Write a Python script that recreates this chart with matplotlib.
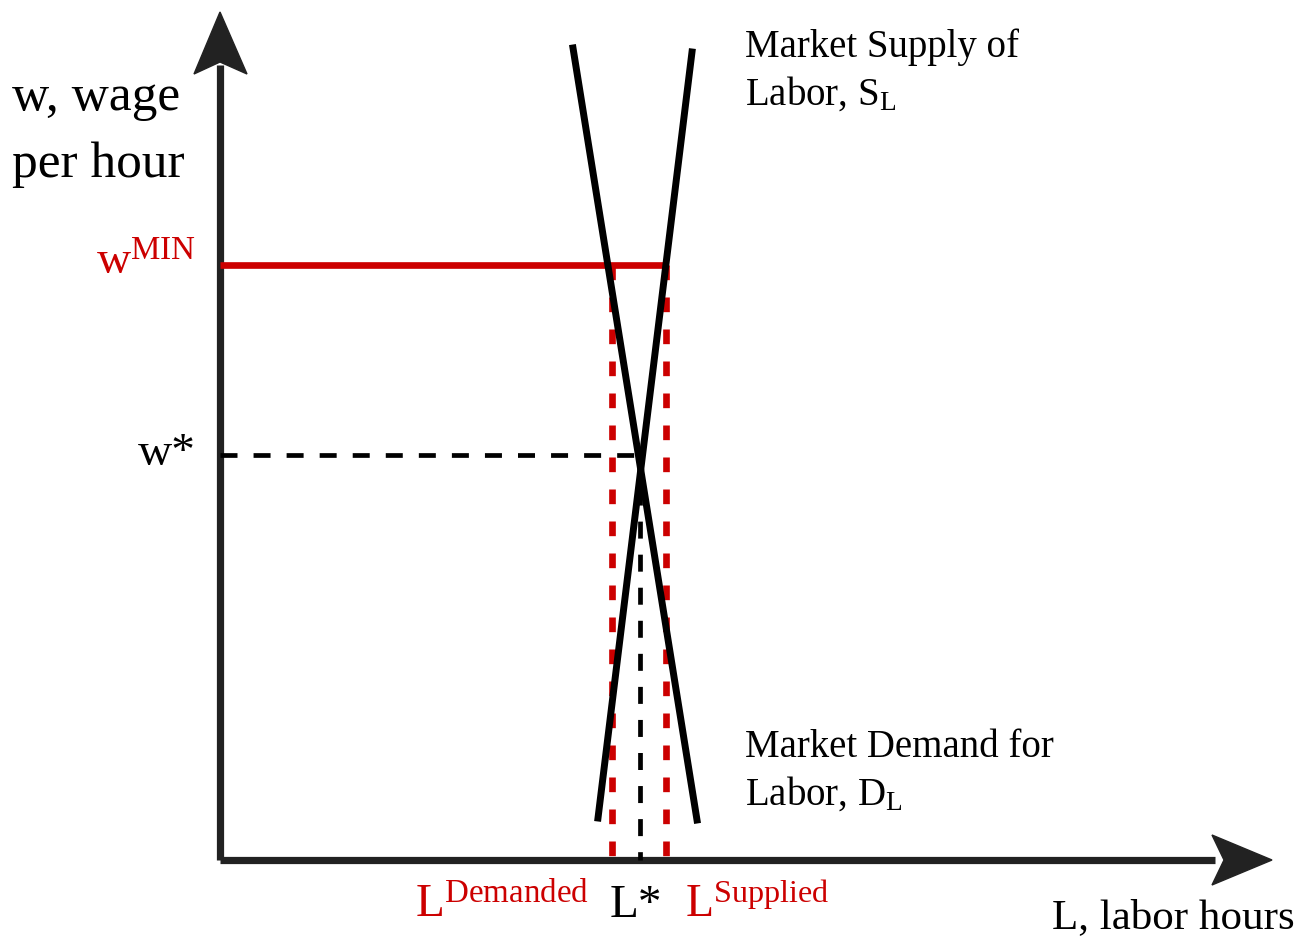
import matplotlib.pyplot as plt
from matplotlib.patches import Polygon

plt.rcParams['font.family'] = ['Liberation Serif', 'DejaVu Serif']
plt.rcParams['mathtext.fontset'] = 'custom'
plt.rcParams['mathtext.rm'] = 'Liberation Serif'
plt.rcParams['mathtext.it'] = 'Liberation Serif:italic'

# curves (labor, wage)
demand_L = [3.53, 4.77]
demand_w = [8.12, 0.40]
supply_L = [3.78, 4.72]
supply_w = [0.42, 8.08]

# key levels
w_min = 5.95
w_star = 4.05
L_star = 4.20
L_dem = 3.92
L_sup = 4.46

red = '#cc0000'
axc = '#222222'

fig = plt.figure(figsize=(13.07, 9.42), dpi=100)
ax = fig.add_axes([0, 0, 1, 1])
ax.set_xlim(-2.20, 10.87)
ax.set_ylim(-0.82, 8.60)
ax.axis('off')

# axes with arrows
ax.plot([0, 0], [0, 7.95], color=axc, lw=5.2, solid_capstyle='butt')
ax.plot([0, 9.95], [0, 0], color=axc, lw=5.2, solid_capstyle='butt')
ax.add_patch(Polygon([[0, 8.48], [-0.26, 7.86], [0, 7.98], [0.27, 7.86]],
                     closed=True, color=axc))
ax.add_patch(Polygon([[10.52, 0], [9.92, 0.25], [10.04, 0], [9.92, -0.25]],
                     closed=True, color=axc))

# minimum wage and quantities
ax.plot([0, L_sup + 0.01], [w_min, w_min], color=red, lw=4.8, solid_capstyle='butt')
ax.plot([L_dem, L_dem], [w_min, 0], color=red, lw=4.8, linestyle=(0, (2.2, 2.6)))
ax.plot([L_sup, L_sup], [w_min, 0], color=red, lw=4.8, linestyle=(0, (2.2, 2.6)))

# equilibrium
ax.plot([0, L_star], [w_star, w_star], color='black', lw=3.4, linestyle=(0, (3.6, 3.4)))
ax.plot([L_star, L_star], [w_star, 0], color='black', lw=3.4, linestyle=(0, (3.6, 3.4)))

# supply and demand
ax.plot(demand_L, demand_w, color='black', lw=5)
ax.plot(supply_L, supply_w, color='black', lw=5)

# labels
ax.text(-2.08, 7.50, 'w, wage', fontsize=37, va='baseline')
ax.text(-2.08, 6.83, 'per hour', fontsize=37, va='baseline')
ax.text(-0.24, 5.85, r'$\mathregular{w^{MIN}}$', fontsize=34, color=red,
        ha='right', va='baseline')
ax.text(-0.24, 3.95, 'w*', fontsize=34, ha='right', va='baseline')

ax.text(5.25, 8.03, 'Market Supply of', fontsize=28, va='baseline')
ax.text(5.25, 7.55, r'Labor, S$_\mathregular{L}$', fontsize=28, va='baseline')
ax.text(5.25, 1.03, 'Market Demand for', fontsize=28, va='baseline')
ax.text(5.25, 0.55, r'Labor, D$_\mathregular{L}$', fontsize=28, va='baseline')

ax.text(1.95, -0.57, r'$\mathregular{L^{Demanded}}$', fontsize=34, color=red,
        va='baseline')
ax.text(4.16, -0.57, 'L*', fontsize=34, ha='center', va='baseline')
ax.text(4.65, -0.57, r'$\mathregular{L^{Supplied}}$', fontsize=33, color=red,
        va='baseline')
ax.text(10.75, -0.68, 'L, labor hours', fontsize=31, ha='right', va='baseline')

fig.savefig('out.png', dpi=100)
